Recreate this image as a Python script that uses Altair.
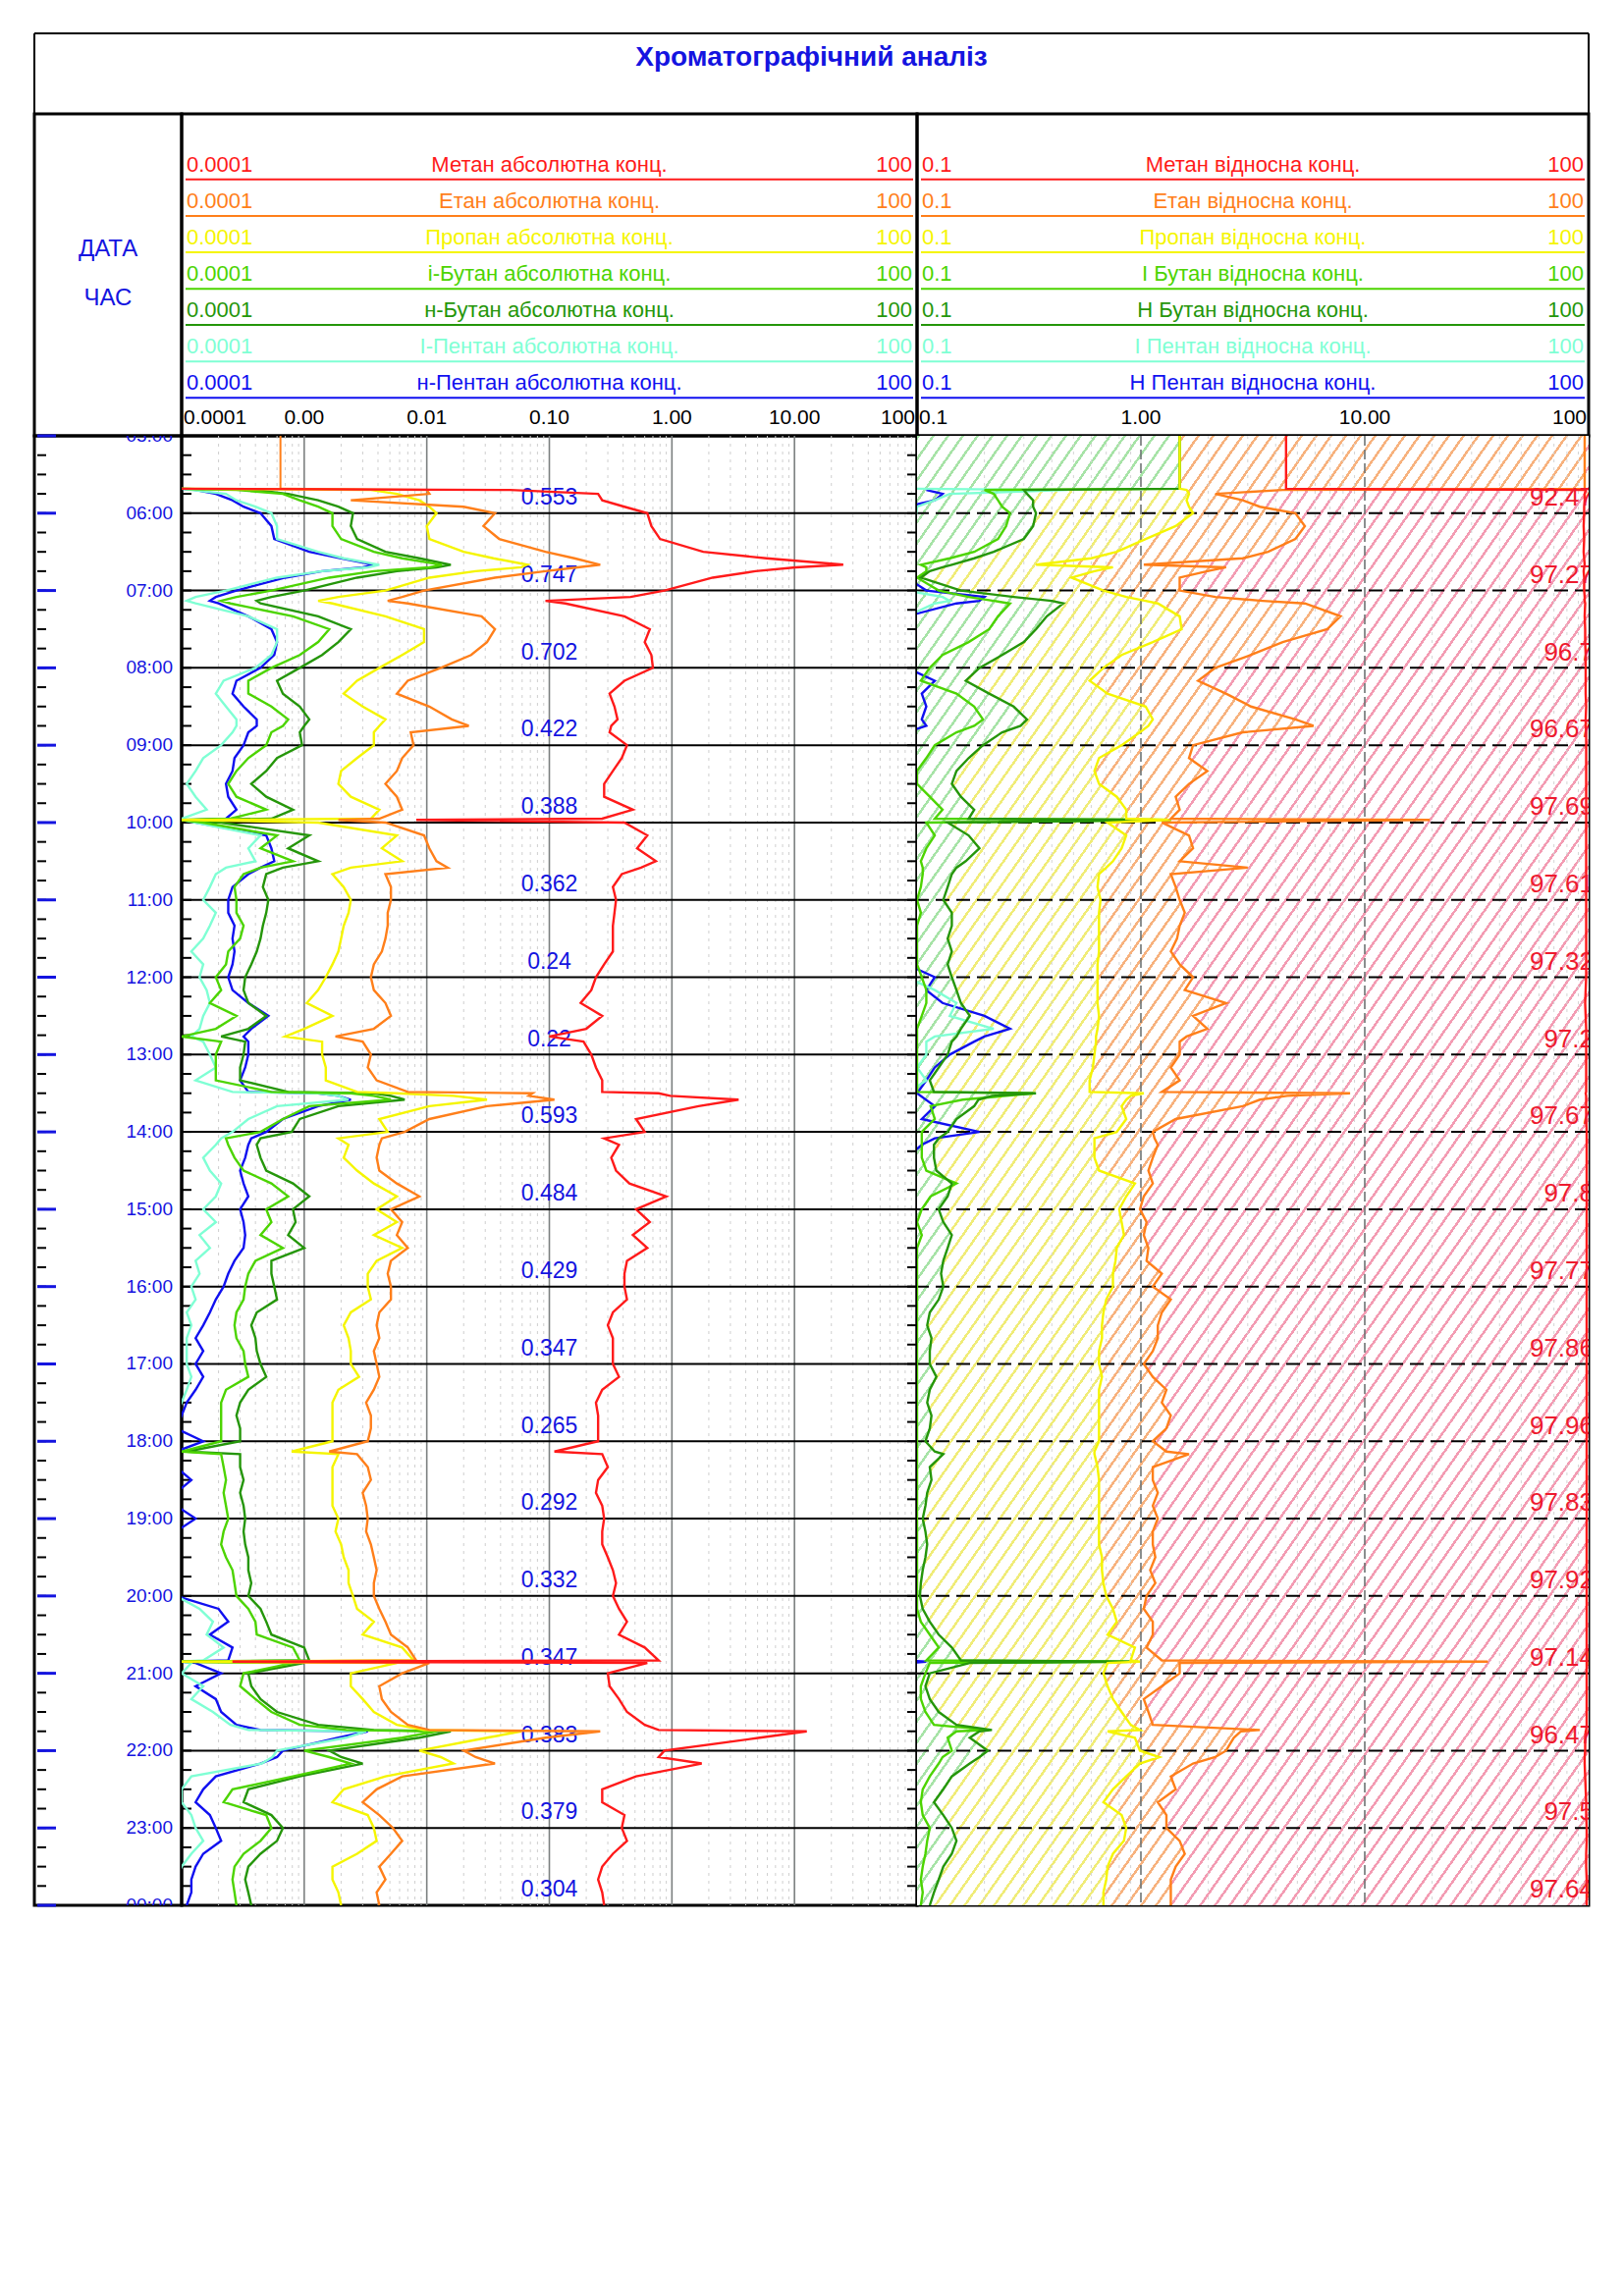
import math
import altair as alt
import pandas as pd

FONT = "Liberation Sans"
BLUE = "#1414e0"
TITLE = "Хроматографічний аналіз"

# ---------------- layout (pixels) ----------------
LW, W1, W2 = 150, 749, 684
TH, HH, DH = 82, 328, 1497

# ---------------- series colours ----------------
C_CH4, C_C2, C_C3 = "#ff1a1a", "#ff7f1a", "#f5f500"
C_IC4, C_NC4, C_IC5, C_NC5 = "#4cd400", "#25960a", "#7fffd4", "#1010f0"
COLORS = [C_CH4, C_C2, C_C3, C_IC4, C_NC4, C_IC5, C_NC5]

NAMES_ABS = ["Метан абсолютна конц.", "Етан абсолютна конц.", "Пропан абсолютна конц.",
             "і-Бутан абсолютна конц.", "н-Бутан абсолютна конц.", "І-Пентан абсолютна конц.",
             "н-Пентан абсолютна конц."]
NAMES_REL = ["Метан відносна конц.", "Етан відносна конц.", "Пропан відносна конц.",
             "І Бутан відносна конц.", "Н Бутан відносна конц.", "І Пентан відносна конц.",
             "Н Пентан відносна конц."]

AXIS1_VALS = [0.0001, 0.001, 0.01, 0.1, 1, 10, 100]
AXIS1_TEXT = ["0.0001", "0.00", "0.01", "0.10", "1.00", "10.00", "100"]
AXIS2_VALS = [0.1, 1, 10, 100]
AXIS2_TEXT = ["0.1", "1.00", "10.00", "100"]

HOUR_VALS = [5, 6, 7, 8, 9, 10, 11, 12, 13, 14, 15, 16, 17, 18, 19, 20, 21, 22, 23, 24]
HOUR_TEXT = ["05:00", "06:00", "07:00", "08:00", "09:00", "10:00", "11:00", "12:00", "13:00",
             "14:00", "15:00", "16:00", "17:00", "18:00", "19:00", "20:00", "21:00", "22:00",
             "23:00", "00:00"]

# hourly labels (placed at hh:48)
LABEL_T = [5.8, 6.8, 7.8, 8.8, 9.8, 10.8, 11.8, 12.8, 13.8, 14.8, 15.8, 16.8, 17.8, 18.8,
           19.8, 20.8, 21.8, 22.8, 23.8]
ABS_LABELS = ["0.553", "0.747", "0.702", "0.422", "0.388", "0.362", "0.24", "0.22", "0.593",
              "0.484", "0.429", "0.347", "0.265", "0.292", "0.332", "0.347", "0.383", "0.379",
              "0.304"]
REL_LABELS = ["92.47", "97.27", "96.7", "96.67", "97.69", "97.61", "97.32", "97.2", "97.67",
              "97.8", "97.77", "97.86", "97.96", "97.83", "97.92", "97.14", "96.47", "97.5",
              "97.64"]

# ---------------- sample times ----------------
T = [
    "05:41", "05:42", "05:45", "05:50", "05:55",
    "06:00", "06:10", "06:20", "06:30", "06:35", "06:40", "06:42", "06:45", "06:50",
    "07:00", "07:05", "07:08", "07:10", "07:20", "07:30", "07:40", "07:50",
    "08:00", "08:10", "08:20", "08:30", "08:40", "08:45", "08:50",
    "09:00", "09:10", "09:20", "09:30", "09:40", "09:50", "09:57", "09:58",
    "10:00", "10:10", "10:20", "10:30", "10:35", "10:40", "10:50",
    "11:00", "11:10", "11:20", "11:30", "11:40", "11:50",
    "12:00", "12:10", "12:20", "12:30", "12:40", "12:46", "12:50",
    "13:00", "13:10", "13:20", "13:29", "13:30", "13:32", "13:35", "13:40", "13:50",
    "14:00", "14:05", "14:10", "14:20", "14:30", "14:40", "14:50",
    "15:00", "15:10", "15:20", "15:30", "15:40", "15:50",
    "16:00", "16:10", "16:20", "16:30", "16:40", "16:50",
    "17:00", "17:10", "17:20", "17:30", "17:40", "17:50",
    "18:00", "18:08", "18:10", "18:20", "18:30", "18:40", "18:50",
    "19:00", "19:10", "19:20", "19:30", "19:40", "19:50",
    "20:00", "20:10", "20:20", "20:30", "20:40", "20:50", "20:51", "20:52",
    "21:00", "21:10", "21:20", "21:30", "21:40", "21:44", "21:45", "21:50",
    "22:00", "22:05", "22:10", "22:20", "22:30", "22:40", "22:50",
    "23:00", "23:10", "23:20", "23:30", "23:40", "23:50",
    "24:00",
]

# ---------------- absolute concentrations (track 1) ----------------
METHANE_ABS = [
    0.0001, 0.048, 0.25, 0.27, 0.41,
    0.63, 0.68, 0.8, 1.8, 5.9, 25, 10.2, 4.8, 2.15,
    0.87, 0.46, 0.093, 0.135, 0.41, 0.66, 0.6, 0.68,
    0.7, 0.41, 0.31, 0.34, 0.36, 0.32, 0.31,
    0.43, 0.39, 0.33, 0.28, 0.28, 0.48, 0.27, 0.0082,
    0.41, 0.63, 0.52, 0.74, 0.56, 0.39, 0.33,
    0.35, 0.34, 0.33, 0.33, 0.33, 0.28,
    0.24, 0.22, 0.18, 0.27, 0.2, 0.1, 0.19,
    0.22, 0.24, 0.27, 0.27, 0.78, 0.97, 3.5, 1.65, 0.51,
    0.6, 0.28, 0.37, 0.32, 0.35, 0.45, 0.9,
    0.51, 0.66, 0.48, 0.63, 0.43, 0.41,
    0.41, 0.43, 0.33, 0.3, 0.33, 0.33,
    0.33, 0.37, 0.27, 0.24, 0.25, 0.25,
    0.25, 0.11, 0.27, 0.3, 0.25, 0.24, 0.27,
    0.28, 0.27, 0.27, 0.3, 0.33, 0.35,
    0.33, 0.37, 0.43, 0.37, 0.6, 0.78, 0.00026, 0.63,
    0.3, 0.31, 0.37, 0.43, 0.6, 0.78, 12.6, 5.2,
    0.87, 0.78, 1.75, 0.51, 0.27, 0.27, 0.41,
    0.39, 0.43, 0.33, 0.27, 0.25, 0.27,
    0.28,
]
ETHANE_ABS = [
    0.00064, 0.01, 0.0105, 0.0024, 0.02,
    0.036, 0.029, 0.039, 0.093, 0.16, 0.26, 0.17, 0.093, 0.036,
    0.0095, 0.0063, 0.0048, 0.007, 0.028, 0.036, 0.031, 0.023,
    0.013, 0.007, 0.0057, 0.0105, 0.016, 0.022, 0.0074,
    0.0078, 0.0063, 0.0057, 0.0046, 0.0057, 0.0063, 0.0041, 0.0019,
    0.0046, 0.0095, 0.0105, 0.012, 0.0148, 0.0046, 0.0051,
    0.0051, 0.0048, 0.0048, 0.0046, 0.0043, 0.0037,
    0.0035, 0.0037, 0.0046, 0.0051, 0.0037, 0.0018, 0.003,
    0.0035, 0.0033, 0.0039, 0.007, 0.073, 0.068, 0.11, 0.031, 0.0105,
    0.0066, 0.0043, 0.0041, 0.0039, 0.0041, 0.0057, 0.0087,
    0.0051, 0.0063, 0.0057, 0.007, 0.0051, 0.0048,
    0.0051, 0.0051, 0.0041, 0.0039, 0.0041, 0.0037,
    0.0039, 0.0041, 0.0037, 0.0032, 0.0035, 0.0035,
    0.0033, 0.0016, 0.0027, 0.0033, 0.0035, 0.003, 0.0032,
    0.0033, 0.0032, 0.0035, 0.0037, 0.0039, 0.0037,
    0.0037, 0.0041, 0.0046, 0.0051, 0.007, 0.0082, 0.00026, 0.0105,
    0.0063, 0.0041, 0.0043, 0.0051, 0.007, 0.0105, 0.26, 0.093,
    0.02, 0.025, 0.036, 0.0063, 0.0039, 0.003, 0.0041,
    0.0053, 0.0063, 0.0051, 0.0041, 0.0046, 0.0039,
    0.0041,
]
ETHANE_PRE_T = ["05:00", "05:41"]
ETHANE_PRE_V = [0.00064, 0.00064]
PROPANE_ABS = [
    0.0001, 0.0035, 0.0057, 0.0087, 0.0105,
    0.012, 0.01, 0.0105, 0.02, 0.035, 0.066, 0.059, 0.025, 0.0105,
    0.0046, 0.0019, 0.0013, 0.0017, 0.0046, 0.0095, 0.0095, 0.0063,
    0.0041, 0.0027, 0.0021, 0.003, 0.0046, 0.0041, 0.0037,
    0.0037, 0.0027, 0.002, 0.0019, 0.0024, 0.0041, 0.0035, 0.0001,
    0.0013, 0.0057, 0.0043, 0.0063, 0.0024, 0.0017, 0.0021,
    0.0024, 0.0023, 0.0021, 0.002, 0.0019, 0.0017,
    0.0015, 0.0013, 0.00105, 0.0017, 0.001, 0.0007, 0.0014,
    0.0014, 0.0015, 0.0015, 0.0027, 0.0057, 0.0165, 0.031, 0.0105, 0.0041,
    0.0048, 0.0019, 0.0023, 0.0021, 0.0027, 0.0037, 0.0057,
    0.0039, 0.0057, 0.0037, 0.0063, 0.0039, 0.0033,
    0.0033, 0.0035, 0.0024, 0.0021, 0.0023, 0.0024,
    0.0024, 0.0028, 0.0019, 0.0017, 0.0017, 0.0017,
    0.0017, 0.00079, 0.0019, 0.0017, 0.0017, 0.0017, 0.0017,
    0.0019, 0.0018, 0.002, 0.0021, 0.0023, 0.0023,
    0.0025, 0.0027, 0.0037, 0.003, 0.0063, 0.0078, 0.0001, 0.0057,
    0.0024, 0.0024, 0.003, 0.0037, 0.0057, 0.0095, 0.059, 0.031,
    0.0087, 0.013, 0.0165, 0.0046, 0.0021, 0.0017, 0.0033,
    0.0037, 0.0039, 0.0027, 0.0017, 0.0017, 0.0019,
    0.002,
]
IBUTANE_ABS = [
    0.0001, 0.00028, 0.00067, 0.00092, 0.0013,
    0.0017, 0.0017, 0.002, 0.0037, 0.0063, 0.0133, 0.0105, 0.0037, 0.0016,
    0.00054, 0.00028, 0.00021, 0.00025, 0.00081, 0.0016, 0.0013, 0.00092,
    0.00054, 0.00035, 0.00035, 0.00054, 0.00074, 0.00067, 0.00054,
    0.00049, 0.00035, 0.00028, 0.00024, 0.00028, 0.00049, 0.00025, 0.0001,
    0.00015, 0.0006, 0.00044, 0.00081, 0.00044, 0.00032, 0.00027,
    0.00028, 0.00028, 0.00032, 0.0003, 0.00024, 0.00023,
    0.00019, 0.00021, 0.00017, 0.00028, 0.00019, 0.0001, 0.00021,
    0.00019, 0.00019, 0.00019, 0.00054, 0.0024, 0.0037, 0.0051, 0.0011, 0.00067,
    0.00044, 0.00023, 0.00024, 0.00027, 0.00032, 0.00054, 0.00074,
    0.00049, 0.00054, 0.00044, 0.00067, 0.0004, 0.00035,
    0.00033, 0.00032, 0.00028, 0.00027, 0.00028, 0.00032,
    0.00033, 0.00035, 0.00023, 0.00021, 0.00021, 0.00021,
    0.00021, 0.0001, 0.00021, 0.00022, 0.00023, 0.00022, 0.00023,
    0.00024, 0.00022, 0.00021, 0.00023, 0.00026, 0.00027,
    0.00028, 0.00035, 0.0004, 0.00041, 0.00081, 0.00092, 0.0001, 0.00081,
    0.00032, 0.0003, 0.0004, 0.00054, 0.00092, 0.0022, 0.012, 0.0063,
    0.001, 0.0016, 0.0024, 0.00081, 0.00026, 0.00022, 0.00049,
    0.00054, 0.00044, 0.00032, 0.00027, 0.00026, 0.00027,
    0.00028,
]
NBUTANE_ABS = [
    0.0001, 0.0004, 0.00074, 0.0013, 0.0019,
    0.0025, 0.0024, 0.0027, 0.0046, 0.0087, 0.0157, 0.012, 0.0057, 0.0027,
    0.001, 0.00054, 0.00041, 0.00044, 0.0013, 0.0024, 0.0019, 0.0014,
    0.00092, 0.0006, 0.00067, 0.00092, 0.0011, 0.001, 0.00092,
    0.00096, 0.0006, 0.00049, 0.00037, 0.00049, 0.00081, 0.00054, 0.0001,
    0.00021, 0.0011, 0.00074, 0.0013, 0.00067, 0.00049, 0.00046,
    0.00051, 0.00049, 0.00046, 0.00044, 0.00041, 0.00037,
    0.00033, 0.00032, 0.00035, 0.00049, 0.00035, 0.00021, 0.00033,
    0.00032, 0.0003, 0.0003, 0.00074, 0.0037, 0.0051, 0.0066, 0.0019, 0.00092,
    0.00079, 0.00044, 0.00041, 0.00044, 0.00049, 0.00081, 0.0011,
    0.00081, 0.00085, 0.00074, 0.001, 0.00054, 0.00054,
    0.00057, 0.0006, 0.00041, 0.00037, 0.0004, 0.00041,
    0.00044, 0.00049, 0.00035, 0.0003, 0.00028, 0.0003,
    0.0003, 0.00011, 0.0003, 0.0003, 0.00032, 0.0003, 0.00032,
    0.00033, 0.00032, 0.00033, 0.00035, 0.00035, 0.00037,
    0.00035, 0.00044, 0.00049, 0.00054, 0.001, 0.0011, 0.0001, 0.001,
    0.00035, 0.00037, 0.00044, 0.0006, 0.0013, 0.0037, 0.0157, 0.0087,
    0.0016, 0.002, 0.003, 0.00092, 0.00035, 0.00032, 0.00054,
    0.00067, 0.0006, 0.00044, 0.00035, 0.00033, 0.00035,
    0.00037,
]
IPENTANE_ABS = [
    0.0001, 0.00012, 0.00023, 0.00028, 0.0004,
    0.00054, 0.0006, 0.0006, 0.0013, 0.0021, 0.0041, 0.0033, 0.0014, 0.0006,
    0.00023, 0.00013, 0.00011, 0.00013, 0.00035, 0.0006, 0.0006, 0.00054,
    0.0004, 0.00022, 0.00019, 0.00023, 0.00028, 0.00028, 0.00026,
    0.00021, 0.00015, 0.00013, 0.00011, 0.00013, 0.00016, 0.0001, 0.0001,
    0.00013, 0.00044, 0.00035, 0.0004, 0.00023, 0.00019, 0.00017,
    0.00015, 0.00019, 0.00017, 0.00015, 0.00012, 0.00015,
    0.00014, 0.00016, 0.00017, 0.00015, 0.00014, 0.00012, 0.00015,
    0.00017, 0.00019, 0.00013, 0.00026, 0.0013, 0.0019, 0.0023, 0.0006, 0.00035,
    0.00026, 0.00021, 0.00019, 0.00015, 0.00017, 0.00021, 0.00019,
    0.00015, 0.00019, 0.00014, 0.00017, 0.00013, 0.00014,
    0.00012, 0.00013, 0.00011, 0.00012, 0.00011, 0.00011,
    0.00011, 0.00012, 0.00011, 0.0001, 0.00009, 0.00009,
    0.00009, 0.00009, 0.00009, 0.00009, 0.00009, 0.00009, 0.00009,
    0.00009, 0.00009, 0.00009, 0.00009, 0.00009, 0.00009,
    0.00009, 0.00014, 0.00018, 0.00016, 0.00022, 0.00015, 0.0001, 0.00012,
    0.0001, 0.00015, 0.00012, 0.00018, 0.00025, 0.00035, 0.0032, 0.0022,
    0.0006, 0.00055, 0.00045, 0.00012, 0.0001, 0.0001, 0.00012,
    0.00013, 0.00015, 0.00012, 0.0001, 0.00009, 0.00009,
    0.00009,
]
NPENTANE_ABS = [
    0.0001, 0.00013, 0.00019, 0.00026, 0.00032,
    0.00044, 0.00054, 0.00057, 0.0011, 0.002, 0.0037, 0.003, 0.0014, 0.0007,
    0.00028, 0.00019, 0.00017, 0.0002, 0.00035, 0.00054, 0.0006, 0.00057,
    0.00044, 0.00028, 0.00026, 0.00032, 0.00041, 0.00041, 0.00035,
    0.00032, 0.00027, 0.00026, 0.00023, 0.00024, 0.00028, 0.00023, 0.00012,
    0.00013, 0.00049, 0.00054, 0.00057, 0.00044, 0.00035, 0.00026,
    0.00024, 0.00024, 0.00027, 0.00026, 0.00027, 0.00026,
    0.00024, 0.00026, 0.00035, 0.00051, 0.00037, 0.00032, 0.00035,
    0.00035, 0.00033, 0.0003, 0.00035, 0.0013, 0.0019, 0.0024, 0.0013, 0.00067,
    0.00049, 0.00037, 0.00035, 0.00033, 0.0003, 0.00032, 0.00035,
    0.0003, 0.00032, 0.00033, 0.00032, 0.00027, 0.00024,
    0.00022, 0.00019, 0.00017, 0.00015, 0.00013, 0.00015,
    0.00013, 0.00015, 0.00013, 0.00011, 0.0001, 0.00009,
    0.00015, 0.00009, 0.00009, 0.00009, 0.00012, 0.00009, 0.00009,
    0.00013, 0.00009, 0.00009, 0.00009, 0.00009, 0.00009,
    0.00009, 0.0002, 0.00024, 0.00017, 0.00026, 0.00024, 0.0001, 0.00013,
    0.00021, 0.00013, 0.00019, 0.00021, 0.00028, 0.00044, 0.0033, 0.0019,
    0.00067, 0.0006, 0.00044, 0.00019, 0.00015, 0.00013, 0.00017,
    0.00019, 0.00021, 0.00015, 0.00013, 0.00012, 0.00012,
    0.00011,
]

# ---------------- relative (cumulative) concentrations (track 2) ----------------
T2 = ["05:00"] + T
NBUTANE_REL = [
    1.49,
    1.49, 0.30, 0.31, 0.33, 0.33,
    0.34, 0.33, 0.30, 0.22, 0.18, 0.143, 0.13, 0.114, 0.104,
    0.157, 0.27, 0.40, 0.45, 0.38, 0.34, 0.30, 0.24,
    0.19, 0.165, 0.21, 0.27, 0.31, 0.29, 0.24,
    0.197, 0.17, 0.15, 0.143, 0.157, 0.18, 0.17, 1.36,
    0.137, 0.17, 0.19, 0.165, 0.15, 0.143, 0.137,
    0.131, 0.143, 0.143, 0.137, 0.143, 0.137,
    0.143, 0.15, 0.157, 0.172, 0.157, 0.15, 0.143,
    0.137, 0.125, 0.114, 0.119, 0.34, 0.216, 0.188, 0.18, 0.15,
    0.137, 0.125, 0.119, 0.119, 0.122, 0.143, 0.137,
    0.125, 0.131, 0.143, 0.137, 0.131, 0.128,
    0.131, 0.125, 0.114, 0.111, 0.116, 0.114,
    0.114, 0.122, 0.114, 0.111, 0.116, 0.114,
    0.109, 0.12, 0.131, 0.114, 0.116, 0.111, 0.109,
    0.106, 0.109, 0.111, 0.109, 0.106, 0.104,
    0.103, 0.106, 0.114, 0.125, 0.143, 0.157, 0.9, 0.172,
    0.114, 0.109, 0.114, 0.125, 0.15, 0.216, 0.19, 0.172,
    0.207, 0.19, 0.172, 0.143, 0.131, 0.119, 0.131,
    0.143, 0.15, 0.143, 0.131, 0.125, 0.119,
    0.114,
]
IBUTANE_REL = [
    1.49,
    1.49, 0.2, 0.22, 0.23, 0.24,
    0.26, 0.25, 0.23, 0.18, 0.14, 0.104, 0.11, 0.11, 0.10,
    0.125, 0.17, 0.22, 0.26, 0.23, 0.21, 0.17, 0.13,
    0.114, 0.104, 0.15, 0.18, 0.197, 0.18, 0.15,
    0.12, 0.11, 0.10, 0.10, 0.114, 0.13, 0.12, 1.36,
    0.11, 0.12, 0.11, 0.104, 0.106, 0.106, 0.104,
    0.10, 0.104, 0.10, 0.10, 0.10, 0.10,
    0.105, 0.11, 0.11, 0.105, 0.10, 0.10, 0.10,
    0.10, 0.10, 0.10, 0.10, 0.33, 0.25, 0.16, 0.115, 0.12,
    0.105, 0.105, 0.105, 0.105, 0.11, 0.15, 0.115,
    0.105, 0.10, 0.105, 0.10, 0.10, 0.10,
    0.10, 0.10, 0.10, 0.10, 0.10, 0.10,
    0.10, 0.10, 0.10, 0.10, 0.10, 0.10,
    0.10, 0.10, 0.10, 0.10, 0.10, 0.10, 0.10,
    0.10, 0.10, 0.10, 0.10, 0.10, 0.10,
    0.10, 0.10, 0.104, 0.114, 0.125, 0.11, 0.9, 0.114,
    0.109, 0.104, 0.104, 0.109, 0.119, 0.21, 0.15, 0.137,
    0.143, 0.13, 0.125, 0.114, 0.106, 0.104, 0.106,
    0.114, 0.111, 0.109, 0.106, 0.104, 0.106,
    0.104,
]
PROPANE_REL = [
    1.49,
    1.49, 1.6, 1.64, 1.6, 1.64,
    1.71, 1.43, 1.05, 0.78, 0.6, 0.34, 0.75, 0.62, 0.49,
    0.68, 0.86, 1.05, 1.19, 1.49, 1.52, 1.13, 0.82,
    0.68, 0.59, 0.71, 1.05, 1.13, 1.08, 0.99,
    0.82, 0.65, 0.62, 0.65, 0.78, 0.86, 0.86, 1.36,
    0.71, 0.86, 0.82, 0.75, 0.7, 0.65, 0.64,
    0.66, 0.65, 0.65, 0.65, 0.65, 0.64,
    0.64, 0.64, 0.64, 0.65, 0.64, 0.63, 0.63,
    0.62, 0.61, 0.59, 0.59, 1.03, 0.9, 0.86, 0.82, 0.86,
    0.78, 0.62, 0.62, 0.62, 0.65, 0.94, 0.86,
    0.80, 0.82, 0.84, 0.78, 0.77, 0.75,
    0.75, 0.70, 0.68, 0.67, 0.67, 0.65,
    0.65, 0.67, 0.65, 0.65, 0.65, 0.65,
    0.65, 0.62, 0.62, 0.64, 0.65, 0.65, 0.65,
    0.65, 0.65, 0.65, 0.67, 0.67, 0.68,
    0.70, 0.75, 0.78, 0.71, 0.94, 0.90, 0.99, 0.71,
    0.68, 0.71, 0.75, 0.82, 0.90, 0.99, 0.71, 0.94,
    0.99, 1.21, 0.99, 0.86, 0.75, 0.68, 0.82,
    0.86, 0.84, 0.75, 0.71, 0.70, 0.68,
    0.68,
]
ETHANE_REL = [
    96,
    96, 4.3, 2.15, 2.85, 3.4,
    4.9, 5.4, 4.9, 3.7, 2.85, 1.03, 2.4, 1.98, 1.49,
    1.49, 2.15, 3.5, 5.4, 7.8, 6.8, 4.3, 3.1,
    2.15, 1.8, 2.4, 3.1, 4.9, 5.9, 2.85,
    1.71, 1.64, 1.98, 1.64, 1.43, 1.49, 1.36, 19.5,
    1.24, 1.64, 1.71, 1.49, 3.0, 1.36, 1.43,
    1.49, 1.57, 1.49, 1.45, 1.36, 1.49,
    1.71, 1.57, 2.4, 1.71, 1.98, 1.6, 1.49,
    1.49, 1.36, 1.49, 1.24, 8.6, 4.5, 3.4, 2.85, 1.43,
    1.13, 1.15, 1.19, 1.13, 1.08, 1.13, 1.03,
    0.99, 1.06, 1.03, 1.08, 1.06, 1.24,
    1.13, 1.36, 1.24, 1.19, 1.19, 1.13,
    1.03, 1.13, 1.30, 1.24, 1.36, 1.30,
    1.13, 1.3, 1.64, 1.13, 1.13, 1.19, 1.13,
    1.19, 1.13, 1.13, 1.16, 1.10, 1.16,
    1.06, 1.03, 1.13, 1.13, 1.06, 1.24, 35.5, 1.49,
    1.49, 1.24, 1.03, 1.08, 1.13, 3.4, 2.8, 2.6,
    2.4, 2.15, 1.71, 1.36, 1.43, 1.19, 1.30,
    1.30, 1.49, 1.57, 1.43, 1.36, 1.36,
    1.36,
]
METHANE_REL = [
    4.45,
    4.45, 97, 96, 96, 95.5,
    95.5, 95, 95.5, 95, 95.5, 96, 95.5, 95, 95.5,
    95.5, 96, 96, 96.5, 96, 96.5, 96.5, 97,
    97, 97, 97, 97.5, 97, 97, 97.5,
    97.5, 97.5, 97.5, 97.5, 97.5, 97.5, 97.5, 97.5,
    97.5, 97.5, 97.5, 97.5, 97.5, 97.5, 97.5,
    97.5, 97.5, 97.5, 97.5, 97.5, 97.5,
    97.5, 97, 96.5, 97, 97.5, 97.5, 97.5,
    97.5, 97.5, 97.5, 97.5, 97, 97.5, 97.5, 97.5, 97.5,
    98, 98, 98, 98, 98, 98, 98,
    98, 98, 98, 98, 98, 98,
    98, 98, 98, 98, 98, 98,
    98, 98, 98, 98, 98, 98,
    98, 98, 98, 98, 98, 98, 98,
    98, 98, 98, 98, 98, 98,
    98, 98, 98, 98, 98, 98, 98, 98,
    98, 98, 98, 98, 98, 97.5, 97, 96.5,
    96.5, 96, 96, 96.5, 97, 97.5, 97.5,
    98, 98, 97.5, 97.5, 98, 98,
    98,
]
# small pentane traces visible at the left edge of track 2
NPENTANE_REL_T = ["05:42", "05:45", "05:50", "05:55", "06:50", "07:00", "07:05", "07:08", "07:10",
                  "07:20", "08:00", "08:10", "08:20", "08:30", "08:40", "08:45", "08:50", "11:50",
                  "12:00", "12:10", "12:20", "12:30", "12:40", "12:46", "12:50", "13:00", "13:10",
                  "13:20", "13:30", "13:40", "13:50", "14:00", "14:05", "14:10", "14:20", "20:50",
                  "20:51", "20:52"]
NPENTANE_REL_V = [0.11, 0.13, 0.12, 0.09, 0.09, 0.11, 0.2, 0.19, 0.15,
                  0.09, 0.09, 0.12, 0.105, 0.11, 0.105, 0.11, 0.09, 0.09,
                  0.12, 0.11, 0.13, 0.2, 0.26, 0.2, 0.18, 0.14, 0.12,
                  0.11, 0.1, 0.12, 0.105, 0.19, 0.12, 0.105, 0.09, 0.09,
                  0.11, 0.09]
IPENTANE_REL_T = ["05:41", "05:42", "05:45", "05:50", "05:55", "07:00", "07:05", "07:08", "07:10",
                  "07:20", "12:00", "12:10", "12:20", "12:30", "12:40", "12:46", "12:50", "13:00",
                  "13:10", "13:20", "13:30"]
IPENTANE_REL_V = [0.09, 0.47, 0.14, 0.12, 0.1, 0.09, 0.13, 0.14, 0.12,
                  0.09, 0.09, 0.12, 0.15, 0.14, 0.22, 0.12, 0.11, 0.11,
                  0.10, 0.11, 0.09]


def hrs(s):
    h, m = s.split(":")
    return int(h) + int(m) / 60.0


for nm, arr in [("METHANE_ABS", METHANE_ABS), ("ETHANE_ABS", ETHANE_ABS), ("PROPANE_ABS", PROPANE_ABS),
                ("IBUTANE_ABS", IBUTANE_ABS), ("NBUTANE_ABS", NBUTANE_ABS),
                ("IPENTANE_ABS", IPENTANE_ABS), ("NPENTANE_ABS", NPENTANE_ABS)]:
    if len(arr) != len(T):
        raise ValueError(f"{nm}: {len(arr)} vs {len(T)}")
for nm, arr in [("NBUTANE_REL", NBUTANE_REL), ("IBUTANE_REL", IBUTANE_REL), ("PROPANE_REL", PROPANE_REL),
                ("ETHANE_REL", ETHANE_REL), ("METHANE_REL", METHANE_REL)]:
    if len(arr) != len(T2):
        raise ValueError(f"{nm}: {len(arr)} vs {len(T2)}")

# ---------------- scales ----------------
YS = alt.Scale(domain=[5, 24], reverse=True, nice=False, zero=False)
XS1 = alt.Scale(type="log", domain=[0.0001, 100], nice=False)
XS2 = alt.Scale(type="log", domain=[0.1, 100], nice=False)
NOAX = None

HOURS_INNER = HOUR_VALS[1:-1]
QUARTERS = [5 + 0.25 * i for i in range(77)]
MAJOR1 = [0.001, 0.01, 0.1, 1, 10]
MINOR1 = [m * 10 ** e for e in range(-4, 2) for m in range(2, 10)]
MAJOR2 = [1, 10]
MINOR2 = [m * 10 ** e for e in range(-1, 2) for m in range(2, 10)]

NOVIEW = alt.ViewBackground(strokeWidth=0, stroke="transparent")
DUMMY = pd.DataFrame({"a": [0]})

# ---------------- title row (three cells, drawn borders) ----------------
def title_cell(width, left_edge, right_edge, with_text):
    base = alt.Chart(DUMMY)
    layers = [
        base.mark_rule(color="black", strokeWidth=2).encode(
            x=alt.value(0), x2=alt.value(width), y=alt.value(0)),
        base.mark_rule(color="black", strokeWidth=2).encode(
            x=alt.value(0), x2=alt.value(width), y=alt.value(TH)),
    ]
    if left_edge:
        layers.append(base.mark_rule(color="black", strokeWidth=2).encode(
            x=alt.value(0), y=alt.value(0), y2=alt.value(TH)))
    if right_edge:
        layers.append(base.mark_rule(color="black", strokeWidth=2).encode(
            x=alt.value(width), y=alt.value(0), y2=alt.value(TH)))
    if with_text:
        layers.append(base.mark_text(font=FONT, fontSize=28, fontWeight="bold", color=BLUE,
                                     align="center", baseline="middle").encode(
            x=alt.value((LW + W1 + W2) / 2 - LW), y=alt.value(25), text=alt.value(TITLE)))
    return alt.layer(*layers).properties(width=width, height=TH, view=NOVIEW)


title_l = title_cell(LW, True, False, False)
title_m = title_cell(W1, False, False, True)
title_r = title_cell(W2, False, True, False)

# ---------------- header row ----------------
LINE_Y = [66.7, 104, 141, 178.3, 215, 252.3, 289.3]
TEXT_Y = [51.7, 89, 125.7, 163.3, 200, 237.3, 274.3]
HFS = 22

hdr_left = alt.Chart(pd.DataFrame({"lab": ["ДАТА", "ЧАС"], "y": [138, 188]})).mark_text(
    font=FONT, fontSize=24, color=BLUE, align="center", baseline="middle"
).encode(x=alt.value(LW / 2), y=alt.Y("y:Q", scale=None), text="lab:N").properties(width=LW, height=HH)


def header(width, names, lo, xs, ax_vals, ax_text):
    rows = pd.DataFrame({"name": names, "color": COLORS, "ly": LINE_Y, "ty": TEXT_Y,
                         "lo": [lo] * 7, "hi": ["100"] * 7})
    base = alt.Chart(rows)
    col = alt.Color("color:N", scale=None)
    lines = base.mark_rule(strokeWidth=2).encode(
        x=alt.value(4), x2=alt.value(width - 4), y=alt.Y("ly:Q", scale=None), color=col)
    tl = base.mark_text(font=FONT, fontSize=HFS, align="left", baseline="middle").encode(
        x=alt.value(5), y=alt.Y("ty:Q", scale=None), text="lo:N", color=col)
    tm = base.mark_text(font=FONT, fontSize=HFS, align="center", baseline="middle").encode(
        x=alt.value(width / 2), y=alt.Y("ty:Q", scale=None), text="name:N", color=col)
    tr = base.mark_text(font=FONT, fontSize=HFS, align="right", baseline="middle").encode(
        x=alt.value(width - 5), y=alt.Y("ty:Q", scale=None), text="hi:N", color=col)
    ax = pd.DataFrame({"v": ax_vals, "lab": ax_text})
    a_first = alt.Chart(ax.iloc[:1]).mark_text(font=FONT, fontSize=21, align="left", dx=2,
                                               baseline="middle", color="black").encode(
        x=alt.X("v:Q", scale=xs, axis=None), y=alt.value(310), text="lab:N")
    a_mid = alt.Chart(ax.iloc[1:-1]).mark_text(font=FONT, fontSize=21, align="center",
                                               baseline="middle", color="black").encode(
        x=alt.X("v:Q", scale=xs, axis=None), y=alt.value(310), text="lab:N")
    a_last = alt.Chart(ax.iloc[-1:]).mark_text(font=FONT, fontSize=21, align="right", dx=-2,
                                               baseline="middle", color="black").encode(
        x=alt.X("v:Q", scale=xs, axis=None), y=alt.value(310), text="lab:N")
    return alt.layer(lines, tl, tm, tr, a_first, a_mid, a_last).properties(width=width, height=HH)


hdr1 = header(W1, NAMES_ABS, "0.0001", XS1, AXIS1_VALS, AXIS1_TEXT)
hdr2 = header(W2, NAMES_REL, "0.1", XS2, AXIS2_VALS, AXIS2_TEXT)

# ---------------- time column ----------------
qdf = pd.DataFrame({"q": QUARTERS})
hdf = pd.DataFrame({"h": HOUR_VALS, "lab": HOUR_TEXT})
tc_ticks = alt.Chart(qdf).mark_rule(color="black", strokeWidth=2).encode(
    y=alt.Y("q:Q", scale=YS, axis=NOAX), x=alt.value(3), x2=alt.value(12))
tc_hticks = alt.Chart(hdf).mark_rule(color=BLUE, strokeWidth=3).encode(
    y=alt.Y("h:Q", scale=YS, axis=NOAX), x=alt.value(3), x2=alt.value(22))
tc_labels = alt.Chart(hdf).mark_text(font=FONT, fontSize=19, color=BLUE, align="right",
                                     baseline="middle", clip=True).encode(
    y=alt.Y("h:Q", scale=YS, axis=NOAX), x=alt.value(141), text="lab:N")
timecol = alt.layer(tc_ticks, tc_hticks, tc_labels).properties(width=LW, height=DH)

# ---------------- track 1 ----------------
df1 = pd.DataFrame({"t": [hrs(s) for s in T], "ch4": METHANE_ABS, "c2": ETHANE_ABS,
                    "c3": PROPANE_ABS, "ic4": IBUTANE_ABS, "nc4": NBUTANE_ABS,
                    "ic5": IPENTANE_ABS, "nc5": NPENTANE_ABS})
pre = pd.DataFrame({"t": [hrs(s) for s in ETHANE_PRE_T], "v": ETHANE_PRE_V})

t1_minor = alt.Chart(pd.DataFrame({"g": MINOR1})).mark_rule(
    color="#cfcfcf", strokeWidth=1, strokeDash=[3, 5]).encode(x=alt.X("g:Q", scale=XS1, axis=NOAX))
t1_major = alt.Chart(pd.DataFrame({"g": MAJOR1})).mark_rule(
    color="#7c8080", strokeWidth=1.6).encode(x=alt.X("g:Q", scale=XS1, axis=NOAX))
t1_hours = alt.Chart(pd.DataFrame({"h": HOURS_INNER})).mark_rule(
    color="black", strokeWidth=2).encode(y=alt.Y("h:Q", scale=YS, axis=NOAX))
t1_tl = alt.Chart(qdf).mark_rule(color="black", strokeWidth=2).encode(
    y=alt.Y("q:Q", scale=YS, axis=NOAX), x=alt.value(0), x2=alt.value(10))
t1_tr = alt.Chart(qdf).mark_rule(color="black", strokeWidth=2).encode(
    y=alt.Y("q:Q", scale=YS, axis=NOAX), x=alt.value(W1 - 10), x2=alt.value(W1))
t1_lab = alt.Chart(pd.DataFrame({"t": LABEL_T, "lab": ABS_LABELS, "xv": [0.1] * len(LABEL_T)})).mark_text(
    font=FONT, fontSize=23, color=BLUE, align="center", baseline="middle").encode(
    x=alt.X("xv:Q", scale=XS1, axis=NOAX), y=alt.Y("t:Q", scale=YS, axis=NOAX), text="lab:N")

t1_layers = [t1_minor, t1_major, t1_hours, t1_tl, t1_tr, t1_lab]
t1_layers.append(alt.Chart(pre).mark_line(color=C_C2, strokeWidth=2, clip=True).encode(
    x=alt.X("v:Q", scale=XS1, axis=NOAX), y=alt.Y("t:Q", scale=YS, axis=NOAX), order=alt.Order("t:Q")))
for col, c in [("nc5", C_NC5), ("ic5", C_IC5), ("nc4", C_NC4), ("ic4", C_IC4),
               ("c3", C_C3), ("c2", C_C2), ("ch4", C_CH4)]:
    t1_layers.append(alt.Chart(df1).mark_line(color=c, strokeWidth=2.4, clip=True).encode(
        x=alt.X(f"{col}:Q", scale=XS1, axis=NOAX), y=alt.Y("t:Q", scale=YS, axis=NOAX),
        order=alt.Order("t:Q")))
track1 = alt.layer(*t1_layers).properties(width=W1, height=DH)

# ---------------- track 2 ----------------
df2 = pd.DataFrame({"t": [hrs(s) for s in T2], "lo": [0.1] * len(T2), "hi": [100] * len(T2),
                    "nc4": NBUTANE_REL, "ic4": IBUTANE_REL, "c3": PROPANE_REL,
                    "c2": ETHANE_REL, "ch4": METHANE_REL})

HATCH_C, HATCH_P, HATCH_W = 0.7, 15.0, 3.0


def px2(v):
    return W2 * (math.log10(v) + 1) / 3


def hatch(color, left, right):
    xs = [px2(v) for v in left + right]
    x0, x1 = min(xs), max(xs)
    y0, y1 = 0.0, float(DH)
    bw, bh = max(x1 - x0, 1.0), y1 - y0
    S = bw + HATCH_C * bh
    s0 = x0 + HATCH_C * y0
    lam = S / (bw ** 2 + (HATCH_C * bh) ** 2)
    stops = [{"offset": 0, "color": "#ffffff"}]
    k = math.floor(s0 / HATCH_P)
    while k * HATCH_P < s0 + S:
        a = (k * HATCH_P - s0) / S
        b = (k * HATCH_P + HATCH_W - s0) / S
        a, b = max(0.0, min(1.0, a)), max(0.0, min(1.0, b))
        if b > a:
            stops += [{"offset": a, "color": "#ffffff"}, {"offset": a, "color": color},
                      {"offset": b, "color": color}, {"offset": b, "color": "#ffffff"}]
        k += 1
    stops.append({"offset": 1, "color": "#ffffff"})
    return alt.LinearGradient(gradient="linear", stops=stops, x1=0, y1=0,
                              x2=lam * bw, y2=lam * HATCH_C * bh)


def band(lo, hi, color):
    g = hatch(color, list(df2[lo]), list(df2[hi]))
    return alt.Chart(df2).mark_area(orient="horizontal", fill=g, clip=True).encode(
        x=alt.X(f"{lo}:Q", scale=XS2, axis=NOAX), x2=alt.X2(f"{hi}:Q"),
        y=alt.Y("t:Q", scale=YS, axis=NOAX))


t2_layers = [
    band("c2", "hi", "#f39cb3"),
    band("c3", "c2", "#f7b27e"),
    band("nc4", "c3", "#f0ec78"),
    band("lo", "nc4", "#a7e3a7"),
]
t2_layers.append(alt.Chart(pd.DataFrame({"g": MINOR2})).mark_rule(
    color="#d4d4d4", strokeWidth=1, strokeDash=[3, 5]).encode(x=alt.X("g:Q", scale=XS2, axis=NOAX)))
t2_layers.append(alt.Chart(pd.DataFrame({"g": MAJOR2})).mark_rule(
    color="#6e7474", strokeWidth=1.6, strokeDash=[10, 4]).encode(x=alt.X("g:Q", scale=XS2, axis=NOAX)))
t2_layers.append(alt.Chart(pd.DataFrame({"h": HOURS_INNER})).mark_rule(
    color="black", strokeWidth=2, strokeDash=[14, 7]).encode(y=alt.Y("h:Q", scale=YS, axis=NOAX)))
for tl, vl, c in [(NPENTANE_REL_T, NPENTANE_REL_V, C_NC5), (IPENTANE_REL_T, IPENTANE_REL_V, C_IC5)]:
    sdf = pd.DataFrame({"t": [hrs(s) for s in tl], "v": vl})
    t2_layers.append(alt.Chart(sdf).mark_line(color=c, strokeWidth=2.4, clip=True).encode(
        x=alt.X("v:Q", scale=XS2, axis=NOAX), y=alt.Y("t:Q", scale=YS, axis=NOAX),
        order=alt.Order("t:Q")))
for col, c in [("ic4", C_IC4), ("nc4", C_NC4), ("c3", C_C3), ("c2", C_C2), ("ch4", C_CH4)]:
    t2_layers.append(alt.Chart(df2).mark_line(color=c, strokeWidth=2.4, clip=True).encode(
        x=alt.X(f"{col}:Q", scale=XS2, axis=NOAX), y=alt.Y("t:Q", scale=YS, axis=NOAX),
        order=alt.Order("t:Q")))
t2_layers.append(alt.Chart(pd.DataFrame({"t": LABEL_T, "lab": REL_LABELS})).mark_text(
    font=FONT, fontSize=26, color="#ee1a2e", align="right", baseline="middle", clip=True).encode(
    x=alt.value(W2 + 5), y=alt.Y("t:Q", scale=YS, axis=NOAX), text="lab:N"))
track2 = alt.layer(*t2_layers).properties(width=W2, height=DH)

# ---------------- assemble (3 x 3 grid, flush) ----------------
chart = alt.concat(
    title_l, title_m, title_r,
    hdr_left, hdr1, hdr2,
    timecol, track1, track2,
    columns=3, spacing=0, bounds="flush",
).properties(
    padding={"left": 25, "top": 25, "right": 10, "bottom": 10}
).configure(font=FONT).configure_view(stroke="black", strokeWidth=3)

chart.save("out.html", embed_options={"renderer": "svg", "actions": False})
